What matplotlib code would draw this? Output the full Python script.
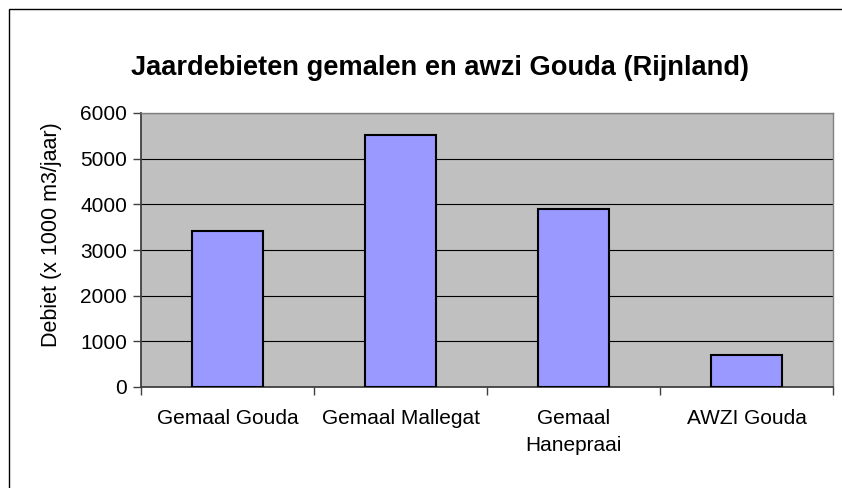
import matplotlib
matplotlib.use("Agg")
import matplotlib.pyplot as plt
import numpy as np
from matplotlib.patches import Rectangle

plt.rcParams["font.family"] = ["Liberation Sans", "DejaVu Sans"]

# data
categories = ["Gemaal Gouda", "Gemaal Mallegat", "Gemaal\nHanepraai", "AWZI Gouda"]
debiet = [3420, 5525, 3905, 700]
yticks = [0, 1000, 2000, 3000, 4000, 5000, 6000]

fig = plt.figure(figsize=(8.42, 4.88), dpi=100)
W, H = 842, 488

# outer chart frame (runs off the right/bottom edge like the reference)
fig.patches.append(Rectangle((9 / W, -0.1), 1.1, 1 - 9 / H + 0.1,
                             transform=fig.transFigure, fill=False,
                             edgecolor="black", linewidth=1.0))

ax = fig.add_axes([141 / W, 1 - 387 / H, (833 - 141) / W, (387 - 113) / H])
ax.set_facecolor("#c0c0c0")

x = np.arange(len(categories))
ax.bar(x, debiet, width=0.41, color="#9999ff", edgecolor="black",
       linewidth=1.5, zorder=3)

ax.set_xlim(-0.5, len(categories) - 0.5)
ax.set_ylim(0, 6000)
ax.set_yticks(yticks)
ax.yaxis.grid(True, color="black", linewidth=0.8, zorder=1)
ax.set_axisbelow(True)

ax.set_xticks(x)
ax.set_xticklabels(categories, fontsize=15, linespacing=1.55)
ax.tick_params(axis="x", which="major", length=0, pad=16)
ax.set_xticks(np.arange(-0.5, len(categories)), minor=True)
ax.tick_params(axis="x", which="minor", length=6, width=1, color="#404040")
ax.tick_params(axis="y", length=6, width=1, color="#404040", labelsize=15, pad=4)

for side in ["top", "right"]:
    ax.spines[side].set_color("#808080")
    ax.spines[side].set_linewidth(1.0)
for side in ["left", "bottom"]:
    ax.spines[side].set_color("#404040")
    ax.spines[side].set_linewidth(1.3)

fig.text(52 / W, 1 - 235 / H, "Debiet (x 1000 m3/jaar)", rotation=90,
         ha="center", va="center", fontsize=15.5)
fig.text(440 / W, 1 - 68 / H,
         "Jaardebieten gemalen en awzi Gouda (Rijnland)",
         ha="center", va="center", fontsize=19.6, fontweight="bold")

fig.savefig("out.png", dpi=100)
